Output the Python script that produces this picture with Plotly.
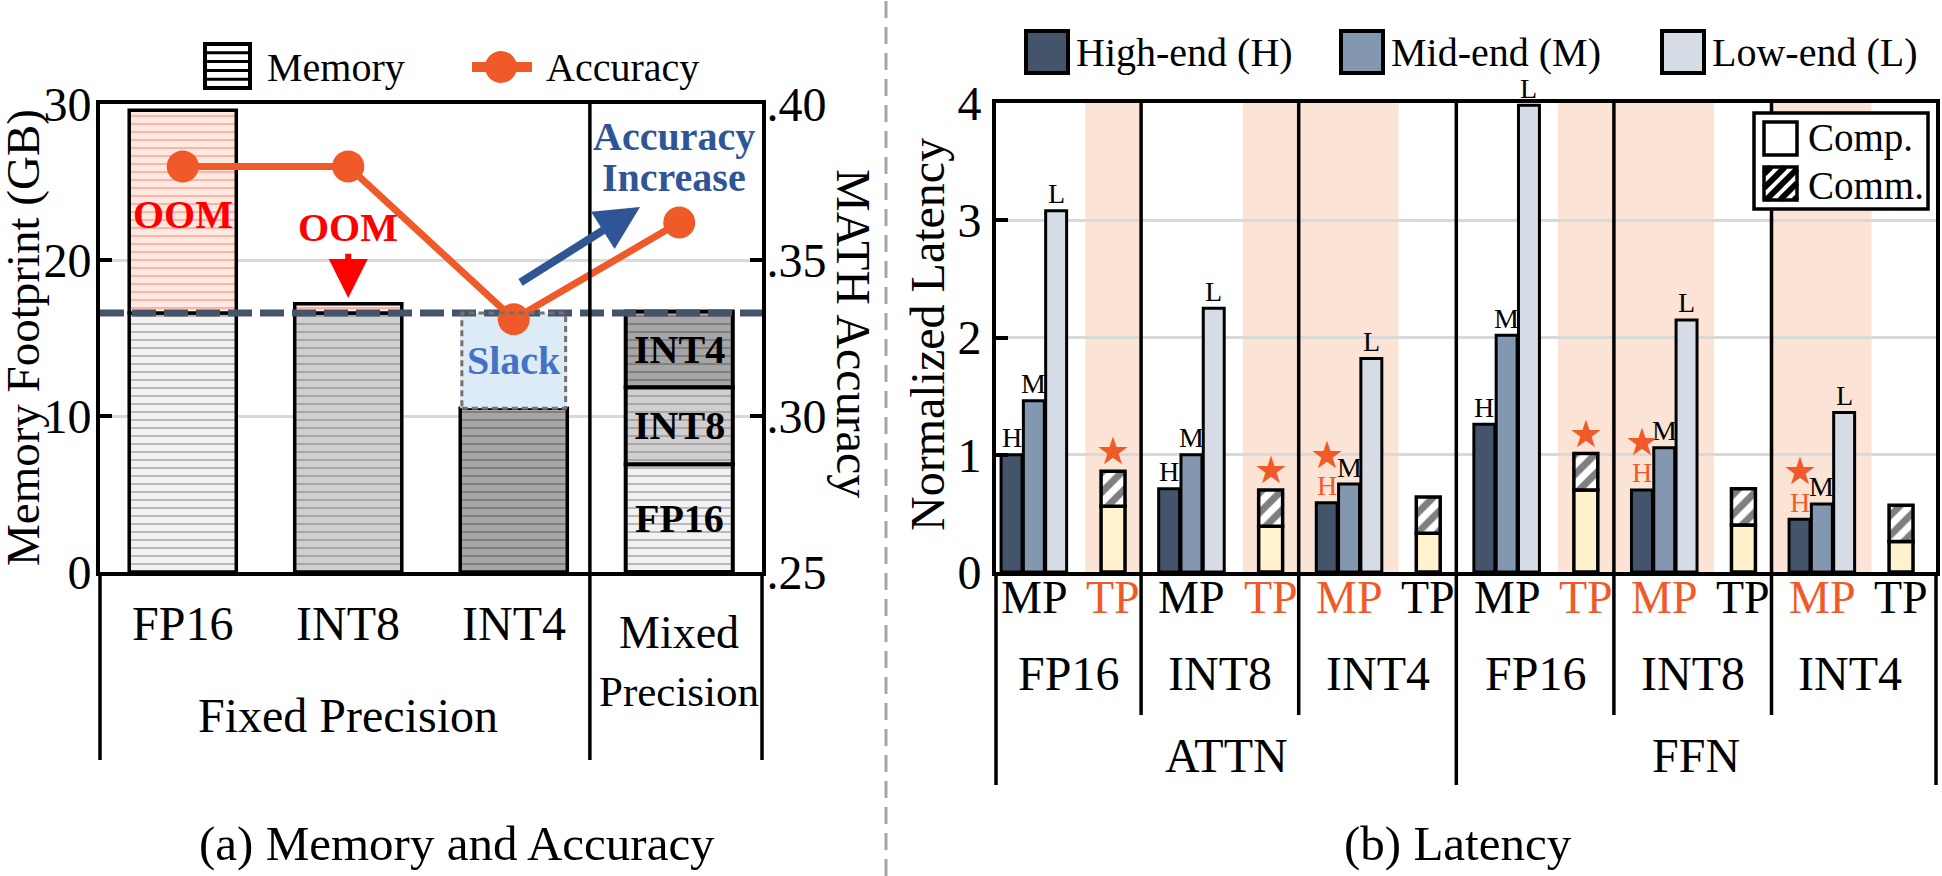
import plotly.graph_objects as go

# ---------------- data ----------------
mem_cats = ["FP16", "INT8", "INT4", "Mixed"]
mem_fixed_total = [29.6, 17.2, 10.5]          # GB, fixed precision models
mem_limit = 16.6                              # GB, device memory capacity
mixed_names = ["FP16", "INT8", "INT4"]
mixed_parts = [6.9, 4.95, 4.85]               # GB, mixed-precision segments
accuracy = [0.380, 0.380, 0.331, 0.362]       # MATH accuracy
mem_ticks = [0, 10, 20, 30]
acc_ticks = [0.25, 0.30, 0.35, 0.40]
acc_ticktext = [".25", ".30", ".35", ".40"]

lat_modules = ["ATTN", "FFN"]
lat_precisions = ["FP16", "INT8", "INT4", "FP16", "INT8", "INT4"]
lat_high = [1.00, 0.71, 0.59, 1.26, 0.70, 0.45]
lat_mid = [1.46, 1.00, 0.75, 2.02, 1.06, 0.58]
lat_low = [3.08, 2.25, 1.82, 3.98, 2.15, 1.36]
tp_comp = [0.56, 0.39, 0.33, 0.70, 0.40, 0.26]
tp_comm = [0.30, 0.31, 0.31, 0.31, 0.31, 0.31]
best = ["TP", "TP", "MP", "TP", "MP", "MP"]
lat_ticks = [0, 1, 2, 3, 4]

# ---------------- styling / layout constants ----------------
W, H = 1942, 876
def px(x): return x / W
def py(y): return 1 - y / H

SERIF = "Liberation Serif, Times New Roman, serif"
ORANGE = "#F05A28"
BLUE = "#2F5597"
SLATE = "#44546A"
PREC_BG = {"FP16": "#F2F2F2", "INT8": "#D0CECE", "INT4": "#A6A6A6"}
PREC_FG = {"FP16": "#808080", "INT8": "#7F7F7F", "INT4": "#595959"}
OOM_BG, OOM_FG = "#FDE9DE", "#FF7C80"
SLACK_BG = "#DDEBF7"
H_COL, M_COL, L_COL = "#44546A", "#8497B0", "#D6DCE5"
COMP_COL = "#FFF2CC"
SHADE = "#FBE4D5"

LX0, LX1, LTOP, BOT = 100, 762, 104, 572
RX0, RX1, RTOP = 996, 1936, 103
GROUP_PX, G0_PX = 157.6, 983.5
r0 = (RX0 - G0_PX) / GROUP_PX
r1 = (RX1 - G0_PX) / GROUP_PX
OFF = {"H": 0.178, "M": 0.3195, "L": 0.461}
OFF_TP = 0.822
W_MP, W_TP = 0.133, 0.152
BARW = 0.647
SEP_X = 2.46

fig = go.Figure()
annotations = []
shapes = []

def ann(text, x, y, xref="paper", yref="paper", size=48, color="black", bold=False,
        family=SERIF, xanchor="center", yanchor="middle", yshift=0, textangle=0):
    if bold:
        text = f"<b>{text}</b>"
    annotations.append(dict(text=text, x=x, y=y, xref=xref, yref=yref, showarrow=False,
                            font=dict(family=family, size=size, color=color),
                            xanchor=xanchor, yanchor=yanchor, yshift=yshift,
                            textangle=textangle))

def pline(x0, y0, x1, y1, color="black", width=3.5, dash=None, xref="paper", yref="paper"):
    d = dict(type="line", x0=x0, y0=y0, x1=x1, y1=y1, xref=xref, yref=yref,
             line=dict(color=color, width=width), layer="above")
    if dash:
        d["line"]["dash"] = dash
    shapes.append(d)

def prect(x0, y0, x1, y1, fill, lc="black", lw=3.5):
    shapes.append(dict(type="rect", xref="paper", yref="paper", x0=px(x0), x1=px(x1),
                       y0=py(y1), y1=py(y0), fillcolor=fill,
                       line=dict(color=lc, width=lw), layer="above"))

# ================= (a) Memory and Accuracy =================
pat = lambda bg, fg: dict(shape="-", fgcolor=fg, bgcolor=bg, size=8, solidity=0.25, fillmode="overlay")
for i, tot in enumerate(mem_fixed_total):
    name = mem_cats[i]
    within = min(tot, mem_limit)
    fig.add_trace(go.Bar(x=[i], y=[within], base=[0], width=BARW, xaxis="x", yaxis="y",
                         marker=dict(color=PREC_BG[name], pattern=pat(PREC_BG[name], PREC_FG[name]),
                                     line=dict(color="black", width=3.5)),
                         showlegend=False, hoverinfo="skip"))
    if tot > mem_limit:
        fig.add_trace(go.Bar(x=[i], y=[tot - mem_limit], base=[mem_limit], width=BARW,
                             xaxis="x", yaxis="y",
                             marker=dict(color=OOM_BG, pattern=pat(OOM_BG, OOM_FG),
                                         line=dict(color="black", width=3.5)),
                             showlegend=False, hoverinfo="skip"))
    else:
        fig.add_trace(go.Bar(x=[i], y=[mem_limit - tot], base=[tot], width=BARW,
                             xaxis="x", yaxis="y",
                             marker=dict(color=SLACK_BG, line=dict(width=0)),
                             showlegend=False, hoverinfo="skip"))
        shapes.append(dict(type="rect", xref="x", yref="y", x0=i - BARW / 2 + 0.01,
                           x1=i + BARW / 2 - 0.01, y0=tot, y1=mem_limit,
                           line=dict(color="#767171", width=3, dash="6px,4px"),
                           fillcolor="rgba(0,0,0,0)", layer="above"))
        ann("Slack", i, (tot + mem_limit) / 2, "x", "y", size=40, color="#4472C4", bold=True)

# mixed precision stacked bar
base = 0
for nm, v in zip(mixed_names, mixed_parts):
    fig.add_trace(go.Bar(x=[3], y=[v], base=[base], width=BARW, xaxis="x", yaxis="y",
                         marker=dict(color=PREC_BG[nm], pattern=pat(PREC_BG[nm], PREC_FG[nm]),
                                     line=dict(color="black", width=4)),
                         showlegend=False, hoverinfo="skip"))
    ann(nm, 3, base + v / 2, "x", "y", size=40, bold=True)
    base += v

# memory limit dashed line
fig.add_trace(go.Scatter(x=[-0.5, 3.5], y=[mem_limit, mem_limit], xaxis="x", yaxis="y",
                         mode="lines", line=dict(color=SLATE, width=7, dash="24px,8px"),
                         showlegend=False, hoverinfo="skip"))
# accuracy line
fig.add_trace(go.Scatter(x=list(range(4)), y=accuracy, xaxis="x", yaxis="y2",
                         mode="lines+markers", line=dict(color=ORANGE, width=7),
                         marker=dict(size=32, color=ORANGE), showlegend=False, hoverinfo="skip"))

# OOM labels & arrows
ann("OOM", 0, 22.9, "x", "y", size=40, color="#FF0000", bold=True)
ann("OOM", 1, 22.1, "x", "y", size=40, color="#FF0000", bold=True)
annotations.append(dict(x=1, y=17.56, ax=1, ay=20.5, xref="x", yref="y", axref="x", ayref="y",
                        showarrow=True, arrowhead=2, arrowsize=1.3, arrowwidth=6,
                        arrowcolor="#FF0000", text=""))
annotations.append(dict(x=2.763, y=23.4, ax=2.032, ay=18.5, xref="x", yref="y", axref="x",
                        ayref="y", showarrow=True, arrowhead=2, arrowsize=1.1, arrowwidth=8,
                        arrowcolor=BLUE, text=""))
ann("Accuracy", 2.97, 27.9, "x", "y", size=40, color=BLUE, bold=True)
ann("Increase", 2.97, 25.3, "x", "y", size=40, color=BLUE, bold=True)

# category labels under panel (a)
for i in range(3):
    ann(mem_cats[i], i, py(623), "x", "paper", size=48)
ann("Mixed", 3, py(632), "x", "paper", size=46)
ann("Precision", 3, py(691), "x", "paper", size=43)
ann("Fixed Precision", 1, py(715), "x", "paper", size=48)
ann("(a) Memory and Accuracy", px(457), py(843), size=49)
ann("Memory Footprint (GB)", px(23), py(338), size=47, textangle=-90)
ann("MATH Accuracy", px(854), py(333), size=48, textangle=90)

# separators panel (a)
shapes.append(dict(type="line", xref="x", yref="paper", x0=SEP_X, x1=SEP_X, y0=py(760), y1=py(LTOP),
                   line=dict(color="black", width=3.5), layer="above"))
for xx in (LX0, LX1):
    pline(px(xx), py(760), px(xx), py(BOT))

# legend (a)
prect(205, 44, 250, 88, "white", lw=4)
for k in range(1, 5):
    yy = 44 + 44 * k / 5
    pline(px(207), py(yy), px(248), py(yy), width=3)
ann("Memory", px(265), py(67), size=40, xanchor="left")
pline(px(472), py(67), px(532), py(67), color=ORANGE, width=10)
shapes.append(dict(type="circle", xref="paper", yref="paper", x0=px(485), x1=px(517),
                   y0=py(83), y1=py(51), fillcolor=ORANGE, line=dict(width=0), layer="above"))
ann("Accuracy", px(544), py(67), size=40, xanchor="left")

# ================= (b) Latency =================
for g in range(6):
    if best[g] == "TP":
        x0s, x1s = g + 0.645, g + 1.0
    else:
        x0s, x1s = g + 0.0, g + 0.635
    shapes.append(dict(type="rect", xref="x3", yref="y3 domain", x0=x0s, x1=x1s, y0=0, y1=1,
                       fillcolor=SHADE, line=dict(width=0), layer="below"))

for key, vals, col in (("H", lat_high, H_COL), ("M", lat_mid, M_COL), ("L", lat_low, L_COL)):
    fig.add_trace(go.Bar(x=[g + OFF[key] for g in range(6)], y=vals, base=[0] * 6, width=W_MP,
                         xaxis="x3", yaxis="y3",
                         marker=dict(color=col, line=dict(color="black", width=3)),
                         showlegend=False, hoverinfo="skip"))
fig.add_trace(go.Bar(x=[g + OFF_TP for g in range(6)], y=tp_comp, base=[0] * 6, width=W_TP,
                     xaxis="x3", yaxis="y3",
                     marker=dict(color=COMP_COL, line=dict(color="black", width=3.5)),
                     showlegend=False, hoverinfo="skip"))
fig.add_trace(go.Bar(x=[g + OFF_TP for g in range(6)], y=tp_comm, base=tp_comp, width=W_TP,
                     xaxis="x3", yaxis="y3",
                     marker=dict(color="white", line=dict(color="black", width=3.5),
                                 pattern=dict(shape="/", fgcolor="black", bgcolor="white",
                                              size=14, solidity=0.5, fillmode="overlay")),
                     showlegend=False, hoverinfo="skip"))

# H / M / L labels and stars
for g in range(6):
    for key, vals in (("H", lat_high), ("M", lat_mid), ("L", lat_low)):
        col = ORANGE if (best[g] == "MP" and key == "H") else "black"
        ann(key, g + OFF[key], vals[g], "x3", "y3", size=28, color=col, yshift=17)
    if best[g] == "MP":
        ann("★", g + OFF["H"], lat_high[g], "x3", "y3", size=38, color=ORANGE,
            family="DejaVu Sans", yshift=48)
    else:
        ann("★", g + OFF_TP, tp_comp[g] + tp_comm[g], "x3", "y3", size=38, color=ORANGE,
            family="DejaVu Sans", yshift=20)
    # MP / TP row
    ann("MP", g + OFF["M"], py(597), "x3", "paper", size=46,
        color=ORANGE if best[g] == "MP" else "black")
    ann("TP", g + OFF_TP, py(597), "x3", "paper", size=46,
        color=ORANGE if best[g] == "TP" else "black")
    left = max(g, r0)
    right = min(g + 1, r1)
    ann(lat_precisions[g], (left + right) / 2, py(673), "x3", "paper", size=48)

ann(lat_modules[0], (r0 + 3) / 2, py(755), "x3", "paper", size=48)
ann(lat_modules[1], (3 + r1) / 2, py(755), "x3", "paper", size=48)
ann("(b) Latency", px(1458), py(843), size=49)
ann("Normalized Latency", px(928), py(335), size=48, textangle=-90)

# group separators panel (b)
for g in (1, 2, 4, 5):
    shapes.append(dict(type="line", xref="x3", yref="paper", x0=g, x1=g, y0=py(715), y1=py(RTOP),
                       line=dict(color="black", width=3.5), layer="above"))
shapes.append(dict(type="line", xref="x3", yref="paper", x0=3, x1=3, y0=py(785), y1=py(RTOP),
                   line=dict(color="black", width=3.5), layer="above"))
for xx in (RX0, RX1):
    pline(px(xx), py(785), px(xx), py(BOT))

# legend (b) top
for (x0, lab, col) in ((1026, "High-end (H)", H_COL), (1341, "Mid-end (M)", M_COL),
                       (1662, "Low-end (L)", L_COL)):
    prect(x0, 31, x0 + 42, 73, col, lw=4)
    ann(lab, px(x0 + 48), py(53), size=40, xanchor="left")

# Comp / Comm legend box
prect(1754, 113, 1928, 209, "white", lw=3.5)
prect(1764, 122, 1797, 155, "white", lw=3.5)
prect(1764, 167, 1797, 200, "white", lw=3.5)
sx0, sx1, sy0, sy1 = 1764, 1797, 167, 200
for c in range(sx0 + sy0 + 7, sx1 + sy1, 14):
    xa = max(sx0, c - sy1)
    xb = min(sx1, c - sy0)
    if xb - xa > 2:
        pline(px(xa), py(c - xa), px(xb), py(c - xb), width=6)
ann("Comp.", px(1806), py(138), size=39, xanchor="left")
ann("Comm.", px(1806), py(185), size=39, xanchor="left")

# dashed separator between panels
pline(px(886), 0, px(886), 1, color="#A6A6A6", width=3, dash="17px,9px")

# ---------------- axes ----------------
axis_common = dict(showline=True, linecolor="black", linewidth=4, zeroline=False,
                   automargin=False,
                   tickfont=dict(family=SERIF, size=48, color="black"))
fig.update_layout(
    width=W, height=H, margin=dict(l=0, r=0, t=0, b=0, pad=0, autoexpand=False), autosize=False,
    paper_bgcolor="white", plot_bgcolor="white", barmode="overlay", showlegend=False,
    xaxis=dict(domain=[px(LX0), px(LX1)], range=[-0.5, 3.5], anchor="y", mirror=True,
               showticklabels=False, ticks="", showgrid=False, **axis_common),
    yaxis=dict(domain=[py(BOT), py(LTOP)], range=[0, 30], anchor="x", tickvals=mem_ticks,
               ticks="inside", ticklen=12, tickwidth=4, tickcolor="black", ticklabelstandoff=-5,
               showgrid=True, gridcolor="#D9D9D9", gridwidth=3, **axis_common),
    yaxis2=dict(overlaying="y", side="right", anchor="x", range=[0.25, 0.40],
                tickvals=acc_ticks, ticktext=acc_ticktext, ticks="inside", ticklen=12,
                ticklabelstandoff=-9,
                tickwidth=4, tickcolor="black", showgrid=False, **axis_common),
    xaxis3=dict(domain=[px(RX0), px(RX1)], range=[r0, r1], anchor="y3", mirror=True,
                showticklabels=False, ticks="", showgrid=False, **axis_common),
    yaxis3=dict(domain=[py(BOT), py(RTOP)], range=[0, 4], anchor="x3", tickvals=lat_ticks,
                ticks="inside", ticklen=12, tickwidth=4, tickcolor="black", mirror=True,
                ticklabelstandoff=1,
                showgrid=True, gridcolor="#D9D9D9", gridwidth=3, **axis_common),
    annotations=annotations, shapes=shapes,
)

fig.write_html("out.html")
